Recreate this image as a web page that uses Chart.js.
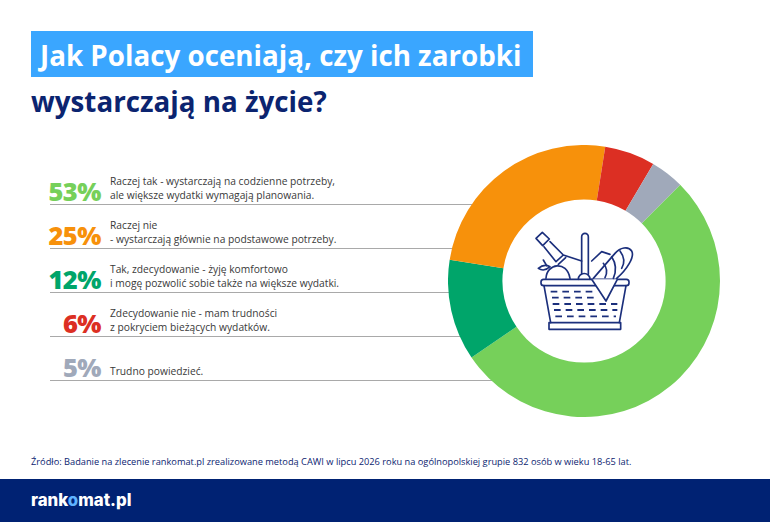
<!DOCTYPE html>
<html lang="pl">
<head>
<meta charset="utf-8">
<title>Jak Polacy oceniają, czy ich zarobki wystarczają na życie?</title>
<script src="https://cdn.jsdelivr.net/npm/chart.js@4"></script>
<style>
    html, body { margin: 0; padding: 0; background: #fff; }
    body { position: relative; width: 770px; height: 522px; overflow: hidden; font-family: "Open Sans", sans-serif; }
    .title1 { position: absolute; left: 31px; top: 31px; width: 502px; height: 46px; background: #3aa6ff; color: #fff; font-size: 27.75px; font-weight: 700; line-height: 49px; text-indent: 9px; white-space: nowrap; }
    .title2 { position: absolute; left: 31px; top: 82px; color: #0b2470; font-size: 27.75px; font-weight: 700; line-height: 38px; white-space: nowrap; }
    .row { position: absolute; left: 50px; width: 450px; height: 43.500px; border-bottom: 1.500px solid #a9a9a9; }
    .pct { position: absolute; right: 399px; bottom: -1px; font-size: 25.5px; font-weight: 800; letter-spacing: -0.5px; line-height: 28px; white-space: nowrap; }
    .desc { position: absolute; left: 60px; bottom: 1px; color: #3a3a3a; font-size: 10.25px; line-height: 14.5px; white-space: nowrap; }
    #donut { position: absolute; left: 448px; top: 145px; width: 272px; height: 272px; }
    #basket { position: absolute; left: 530px; top: 225px; width: 105px; height: 110px; }
    .source { position: absolute; left: 31px; top: 455px; color: #0b2470; font-size: 9.26px; line-height: 14px; white-space: nowrap; }
    .footer { position: absolute; left: 0; top: 479px; width: 770px; height: 43px; background: #002273; }
    .logo { position: absolute; left: 31px; top: 10px; color: #fff; font-family: Inter, sans-serif; font-size: 16.8px; font-weight: 800; line-height: 22px; white-space: nowrap; }
    .logo span { color: #5fb4ff; }
</style>
</head>
<body>
<div class="title1" id="title1"></div>
<div class="title2" id="title2"></div>
<div id="rows"></div>
<div id="donut"><canvas id="donutChart"></canvas></div>
<svg id="basket" viewBox="0 0 315 330" fill="none" stroke="#1b2f7c" stroke-width="5" stroke-linecap="round" stroke-linejoin="round">
    <!-- rim, sides, base -->
    <rect x="33" y="163" width="264" height="19" rx="8"/>
    <path d="M42 182 L62 293 M288 182 L268 293"/>
    <rect x="57" y="293" width="215" height="20"/>
    <!-- weave -->
    <path d="M62 200 H190 M66 218 H205 M68 237 H262 M72 255 H262 M76 274 H258" stroke-dasharray="20 15" stroke-linecap="butt" stroke-width="5.500"/>
    <!-- handle -->
    <path d="M155 148 V35 a10 10 0 0 1 20 0 V148"/>
    <path d="M145 163 a17 17 0 0 1 35 0"/>
    <!-- napkin -->
    <path d="M185 163 L228 228 L262 163" fill="#fff"/>
    <!-- bottle -->
    <path d="M18 40 L37 22 L58 42 L38 62 Z"/>
    <path d="M42 65 L78 110 M60 50 L100 90 L155 108 M78 110 L100 90 M85 118 L107 98"/>
    <!-- fruit -->
    <path d="M48 160 C50 115 110 105 120 160"/>
    <path d="M25 130 Q42 115 60 125 Q42 142 25 130 Z"/>
    <path d="M40 105 L50 122"/>
    <!-- bread -->
    <path d="M185 108 L215 80 L240 88"/>
    <path d="M190 160 L255 85 C270 68 295 62 305 78 C315 95 290 135 260 160"/>
    <path d="M220 115 Q237 135 225 158 M245 95 Q265 125 250 160 M270 78 Q290 105 275 130"/>
</svg>
<div class="source" id="source"></div>
<div class="footer"><div class="logo" id="logo"></div></div>

<script>
const titleLines = ['Jak Polacy oceniają, czy ich zarobki', 'wystarczają na życie?'];
const sourceText = 'Źródło: Badanie na zlecenie rankomat.pl zrealizowane metodą CAWI w lipcu 2026 roku na ogólnopolskiej grupie 832 osób w wieku 18-65 lat.';

// List order, top to bottom
const categories = [
    ['Raczej tak - wystarczają na codzienne potrzeby,', 'ale większe wydatki wymagają planowania.'],
    ['Raczej nie', '- wystarczają głównie na podstawowe potrzeby.'],
    ['Tak, zdecydowanie - żyję komfortowo', 'i mogę pozwolić sobie także na większe wydatki.'],
    ['Zdecydowanie nie - mam trudności', 'z pokryciem bieżących wydatków.'],
    ['Trudno powiedzieć.']
];
const labels = ['53%', '25%', '12%', '6%', '5%'];
const colors = ['#76d05a', '#f7910b', '#00a56a', '#dc2f23', '#a0a9ba'];

// Slice sizes as measured on the ring. The grey one spans about 4% even though its label says 5%
const sliceValues = [53, 25, 12, 6, 4];

// The ring runs clockwise in a different order from the list
const sliceOrder = [0, 2, 1, 3, 4];

document.getElementById('title1').textContent = titleLines[0];
document.getElementById('title2').textContent = titleLines[1];
document.getElementById('source').textContent = sourceText;
document.getElementById('logo').innerHTML = 'rank<span>o</span>mat.pl';

// Text rows on the left
document.getElementById('rows').innerHTML = categories.map((lines, i) => `
    <div class="row" style="top:${160 + i * 44}px">
        <div class="pct" style="color:${colors[i]}">${labels[i]}</div>
        <div class="desc">${lines.join('<br>')}</div>
    </div>
`).join('');

// Donut
const ctxDonut = document.getElementById('donutChart').getContext('2d');
new Chart(ctxDonut, {
    type: 'doughnut',
    data: {
        labels: sliceOrder.map(i => categories[i].join(' ')),
        datasets: [{
            data: sliceOrder.map(i => sliceValues[i]),
            backgroundColor: sliceOrder.map(i => colors[i]),
            borderWidth: 0
        }]
    },
    options: {
        responsive: true,
        maintainAspectRatio: false,
        animation: false,
        cutout: '60%',
        rotation: 45,
        layout: { padding: 0 },
        plugins: { legend: { display: false }, tooltip: { enabled: false } }
    }
});
</script>
</body>
</html>
